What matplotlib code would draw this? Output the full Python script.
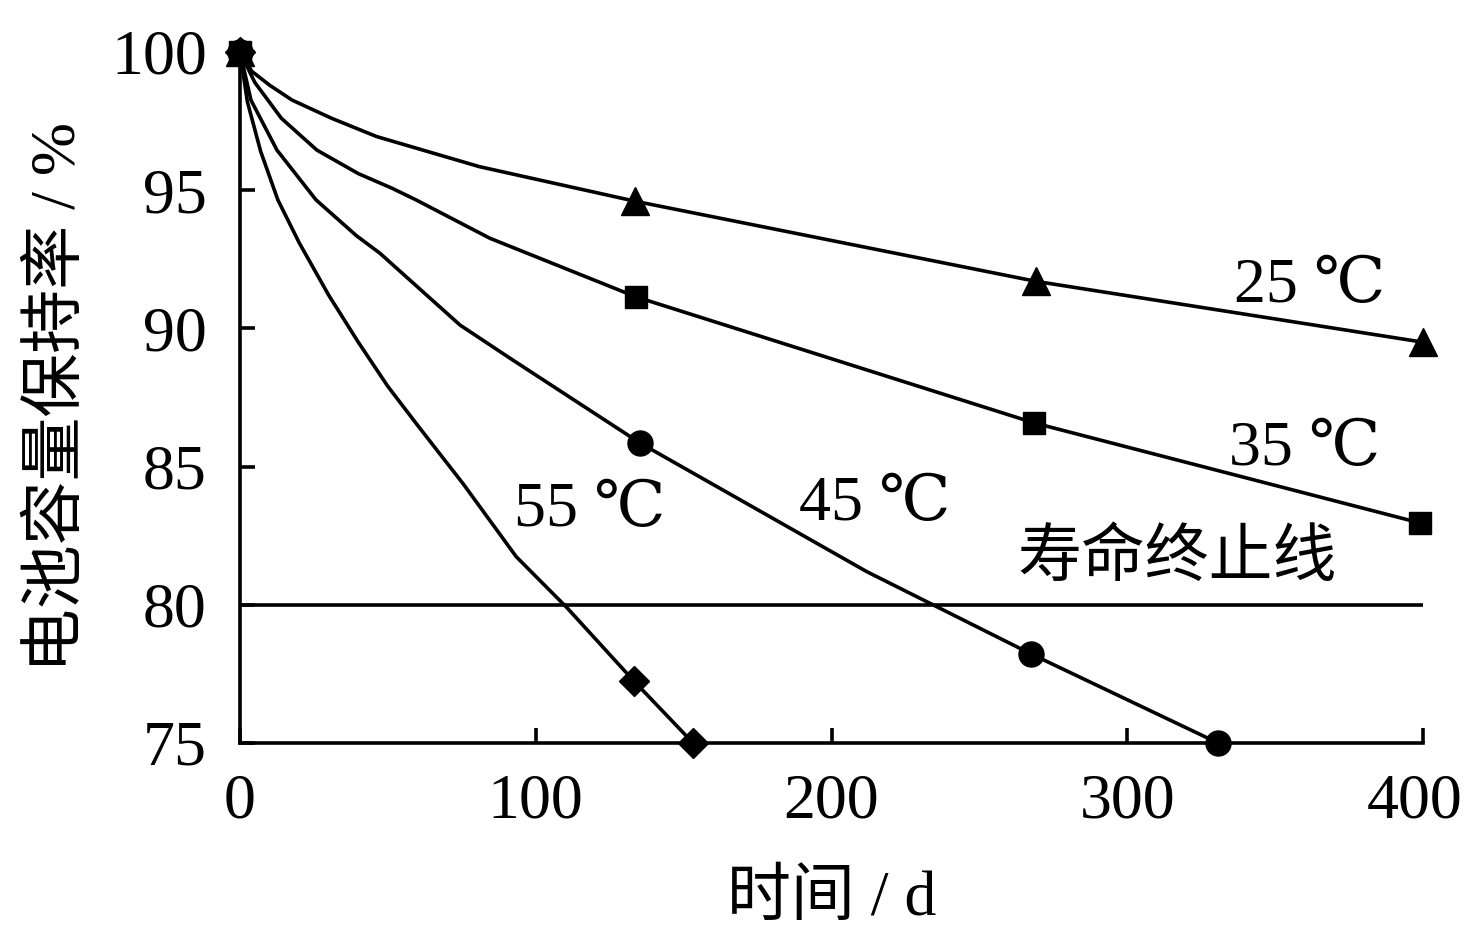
import matplotlib
matplotlib.use("Agg")
import matplotlib.pyplot as plt
from matplotlib.transforms import ScaledTranslation

plt.rcParams['font.family'] = ['Liberation Serif', 'Noto Sans CJK SC', 'DejaVu Sans']

# ---- data ----
# curve traces (days, capacity retention %)
t25 = [0, 4, 10, 17.6, 31, 46.2, 81, 133.6, 269.2, 400]
c25 = [100, 99.3, 98.8, 98.26, 97.6, 96.94, 95.85, 94.6, 91.7, 89.5]
t35 = [0, 5, 14, 26, 40, 51.4, 59.5, 84.5, 133.9, 268.5, 399]
c35 = [100, 98.9, 97.6, 96.45, 95.6, 95.07, 94.65, 93.26, 91.14, 86.58, 82.96]
t45 = [0, 3.7, 12.5, 25.7, 39.4, 47.3, 74.4, 91.3, 135.3, 211.9, 267.5, 330.7]
c45 = [100, 98.26, 96.45, 94.65, 93.35, 92.72, 90.12, 88.92, 85.85, 81.2, 78.22, 75]
t55 = [0, 2.5, 7, 12.8, 20, 30, 40, 50, 60, 75.5, 93.4, 110.5, 133.2, 153.2]
c55 = [100, 98.2, 96.4, 94.65, 93.1, 91.2, 89.5, 87.9, 86.5, 84.37, 81.74, 79.9, 77.24, 75]

# measured points (markers)
m25_t = [0, 133.6, 269.2, 400]
m25_c = [100, 94.6, 91.7, 89.5]
m35_t = [0, 133.9, 268.5, 399]
m35_c = [100, 91.14, 86.58, 82.96]
m45_t = [0, 135.3, 267.5, 330.7]
m45_c = [100, 85.85, 78.22, 75]
m55_t = [0, 133.2, 153.2]
m55_c = [100, 77.24, 75]

eol_level = 80
xticks = [0, 100, 200, 300, 400]
yticks = [75, 80, 85, 90, 95, 100]

# ---- figure ----
fig = plt.figure(figsize=(14.66, 9.40), dpi=100)
ax = fig.add_axes([0.1637, 0.2096, 0.807, 0.7351])

lw = 2.6
for t, c in [(t25, c25), (t35, c35), (t45, c45), (t55, c55)]:
    ax.plot(t, c, color='black', lw=lw, solid_joinstyle='round', clip_on=False, zorder=3)

ax.plot(m25_t, m25_c, linestyle='none', marker='^', ms=20, color='black', clip_on=False, zorder=4)
ax.plot(m35_t, m35_c, linestyle='none', marker='s', ms=16, color='black', clip_on=False, zorder=4)
ax.plot(m45_t, m45_c, linestyle='none', marker='o', ms=18, color='black', clip_on=False, zorder=4)
ax.plot(m55_t, m55_c, linestyle='none', marker='D', ms=15, color='black', clip_on=False, zorder=4)

ax.axhline(eol_level, color='black', lw=lw, zorder=2)

ax.set_xlim(0, 400)
ax.set_ylim(75, 100)
ax.set_xticks(xticks)
ax.set_yticks(yticks)
ax.set_xticklabels([str(v) for v in xticks])
ax.set_yticklabels([str(v) for v in yticks])

for s in ['top', 'right']:
    ax.spines[s].set_visible(False)
for s in ['left', 'bottom']:
    ax.spines[s].set_linewidth(lw)

ax.tick_params(axis='both', direction='in', length=11, width=lw, labelsize=46)
ax.tick_params(axis='y', pad=24)
ax.tick_params(axis='x', pad=22)

# nudge the last x tick label slightly left so it stays inside the canvas
last = ax.xaxis.get_major_ticks()[-1].label1
last.set_transform(last.get_transform() + ScaledTranslation(-8 / 100, 0, fig.dpi_scale_trans))

fs = 46
tfam = ['Liberation Serif', 'DejaVu Serif', 'Noto Sans CJK SC']
ax.text(361.8, 91.5, '25 ℃', fontsize=fs, ha='center', va='center', family=tfam)
ax.text(360.1, 85.6, '35 ℃', fontsize=fs, ha='center', va='center', family=tfam)
ax.text(214.7, 83.6, '45 ℃', fontsize=fs, ha='center', va='center', family=tfam)
ax.text(118.3, 83.4, '55 ℃', fontsize=fs, ha='center', va='center', family=tfam)
ax.text(316.8, 81.6, '寿命终止线', fontsize=fs, ha='center', va='center')

ax.set_xlabel('时间 / d', fontsize=fs, labelpad=28)
ax.set_ylabel('电池容量保持率 / %', fontsize=fs, labelpad=16)

fig.savefig('out.png', dpi=100)
